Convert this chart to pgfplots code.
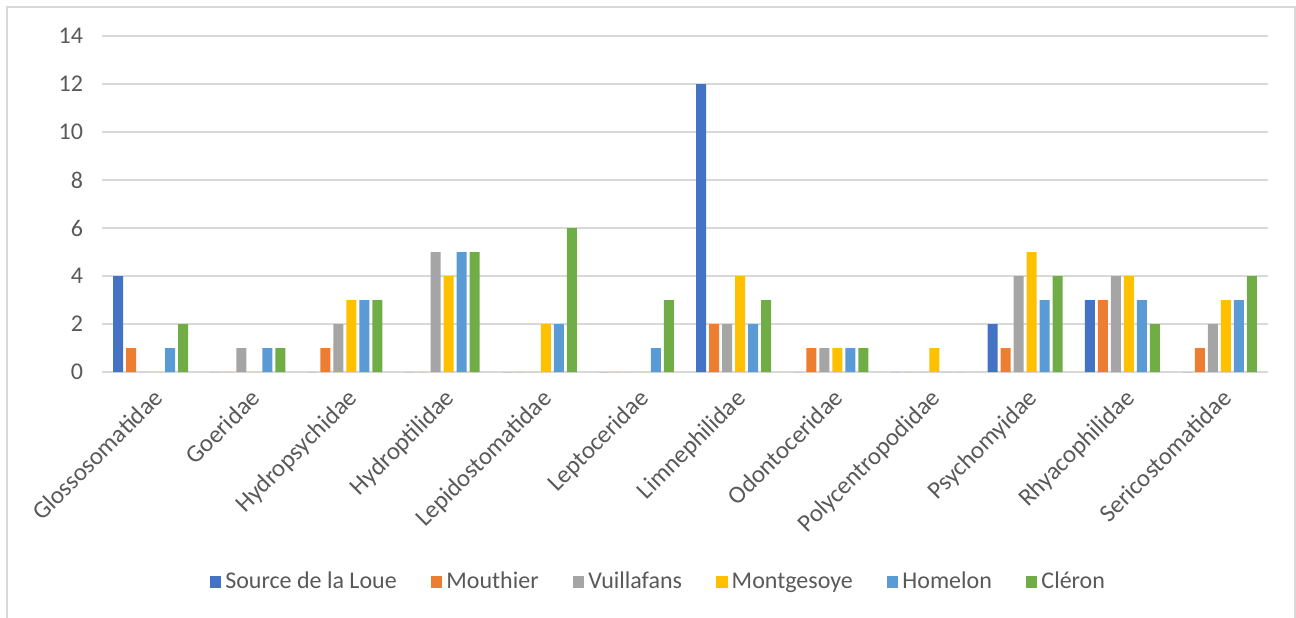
\documentclass[border=0pt]{standalone}
\usepackage{fontspec}
\setmainfont{Carlito}
\usepackage{pgfplots}
\pgfplotsset{compat=1.18}

\definecolor{cA}{HTML}{4472C4}
\definecolor{cB}{HTML}{ED7D31}
\definecolor{cC}{HTML}{A5A5A5}
\definecolor{cD}{HTML}{FFC000}
\definecolor{cE}{HTML}{5B9BD5}
\definecolor{cF}{HTML}{70AD47}
\definecolor{txt}{HTML}{595959}
\definecolor{grd}{HTML}{D9D9D9}

\begin{document}
\begin{tikzpicture}
\path[use as bounding box] (0,0) rectangle (648pt,-308.5pt);
\draw[grd, line width=0.8pt] (3.5pt,-320pt) -- (3.5pt,-3.5pt) -- (647.6pt,-3.5pt) -- (647.6pt,-320pt);

\begin{axis}[
    at={(51pt,-186pt)}, anchor=south west,
    scale only axis,
    width=583pt, height=168pt,
    ybar=1.5pt, bar width=5pt,
    xmin=-0.5, xmax=11.5,
    ymin=0, ymax=14,
    ytick={0,2,...,14},
    xtick={0,...,11},
    xticklabels={Glossosomatidae,Goeridae,Hydropsychidae,Hydroptilidae,Lepidostomatidae,Leptoceridae,Limnephilidae,Odontoceridae,Polycentropodidae,Psychomyidae,Rhyacophilidae,Sericostomatidae},
    axis line style={draw=none},
    major tick length=0pt,
    ymajorgrids, grid style={grd, line width=0.8pt},
    tick label style={font=\fontsize{12}{14}\selectfont, text=txt},
    xticklabel style={font=\fontsize{12.4}{14}\selectfont},
    /pgf/number format/assume math mode=true,
    yticklabel style={xshift=-6pt},
    xticklabel style={rotate=45, anchor=north east, xshift=-1.5pt, yshift=-2.5pt},
    legend columns=6,
    legend style={draw=none, at={(0.478,-0.625)}, anchor=center,
        font=\fontsize{12}{14}\selectfont, text=txt,
        /tikz/every even column/.append style={column sep=15pt}},
    legend image code/.code={\fill[#1, draw=none] (0pt,-2.9pt) rectangle (5.8pt,2.9pt);},
    every axis plot/.append style={draw=none},
]
\addplot[fill=cA] coordinates {(0,4) (1,0) (2,0) (3,0) (4,0) (5,0) (6,12) (7,0) (8,0) (9,2) (10,3) (11,0)};
\addplot[fill=cB] coordinates {(0,1) (1,0) (2,1) (3,0) (4,0) (5,0) (6,2) (7,1) (8,0) (9,1) (10,3) (11,1)};
\addplot[fill=cC] coordinates {(0,0) (1,1) (2,2) (3,5) (4,0) (5,0) (6,2) (7,1) (8,0) (9,4) (10,4) (11,2)};
\addplot[fill=cD] coordinates {(0,0) (1,0) (2,3) (3,4) (4,2) (5,0) (6,4) (7,1) (8,1) (9,5) (10,4) (11,3)};
\addplot[fill=cE] coordinates {(0,1) (1,1) (2,3) (3,5) (4,2) (5,1) (6,2) (7,1) (8,0) (9,3) (10,3) (11,3)};
\addplot[fill=cF] coordinates {(0,2) (1,1) (2,3) (3,5) (4,6) (5,3) (6,3) (7,1) (8,0) (9,4) (10,2) (11,4)};
\legend{Source de la Loue,Mouthier,Vuillafans,Montgesoye,Homelon,Cléron}
\end{axis}
\end{tikzpicture}
\end{document}
